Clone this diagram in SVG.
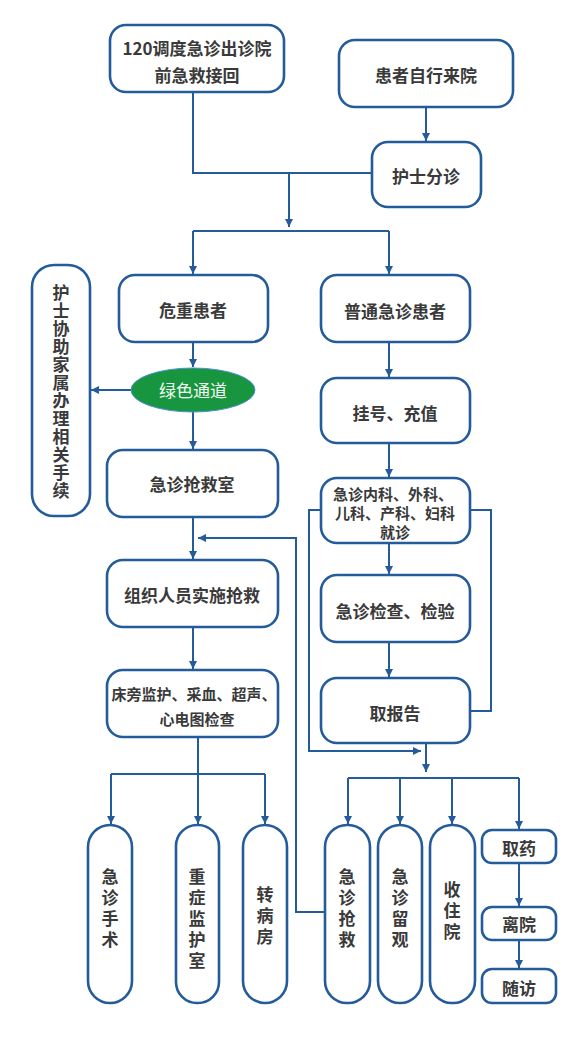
<svg xmlns="http://www.w3.org/2000/svg" width="584" height="1038" viewBox="0 0 584 1038">
<defs>
<marker id="arr" markerUnits="userSpaceOnUse" markerWidth="8" markerHeight="8" refX="8" refY="4" orient="auto">
<path d="M0,0 L8,4 L0,8 z" fill="#235b9b"/>
</marker>
<style>
.box{fill:#ffffff;stroke:#235b9b;stroke-width:2.6}
.ln{fill:none;stroke:#235b9b;stroke-width:2}
.a{marker-end:url(#arr)}
.t{font-family:"Noto Sans CJK SC","Noto Sans",sans-serif;font-size:17px;font-weight:bold;fill:#3a3a3a;text-anchor:middle;dominant-baseline:central}
.s{font-size:15px}
.w{fill:#f2fbf2;font-weight:normal}
.v{writing-mode:vertical-rl;letter-spacing:4px}
.v1{writing-mode:vertical-rl;letter-spacing:1px}
</style>
</defs>
<rect width="584" height="1038" fill="#ffffff"/>
<g id="connectors">
<path class="ln" d="M193 92 V173 H372"/>
<path class="ln a" d="M289 173 V227"/>
<path class="ln" d="M193 231 H389"/>
<path class="ln a" d="M193 231 V274"/>
<path class="ln a" d="M389 231 V274"/>
<path class="ln a" d="M426 107 V141"/>
<path class="ln a" d="M193 342 V367"/>
<path class="ln a" d="M131 390 H91"/>
<path class="ln a" d="M193 412 V449"/>
<path class="ln a" d="M193 517 V559"/>
<path class="ln a" d="M193 627 V669"/>
<path class="ln a" d="M198 737 V824"/>
<path class="ln" d="M111 774 H265"/>
<path class="ln a" d="M111 774 V824"/>
<path class="ln a" d="M265 774 V824"/>
<path class="ln a" d="M389 342 V377"/>
<path class="ln a" d="M389 443 V477"/>
<path class="ln a" d="M389 543 V574"/>
<path class="ln a" d="M389 642 V677"/>
<path class="ln" d="M470 510 H491 V711 H470"/>
<path class="ln a" d="M321 510 H309 V751 H421"/>
<path class="ln a" d="M426 743 V772"/>
<path class="ln" d="M348 778 H519"/>
<path class="ln a" d="M348 778 V824"/>
<path class="ln a" d="M400 778 V824"/>
<path class="ln a" d="M452 778 V824"/>
<path class="ln a" d="M519 778 V829"/>
<path class="ln a" d="M519 863 V906"/>
<path class="ln a" d="M519 940 V968"/>
<path class="ln a" d="M325 912 H296 V538 H198"/>
</g>
<g id="n120"><rect class="box" x="110" y="25" width="174" height="67" rx="16"/>
<text class="t" x="197" y="47">120调度急诊出诊院</text><text class="t" x="197" y="74">前急救接回</text></g>
<g id="nSelf"><rect class="box" x="339" y="40" width="174" height="67" rx="16"/>
<text class="t" x="426" y="74">患者自行来院</text></g>
<g id="nTriage"><rect class="box" x="372" y="142" width="109" height="65" rx="16"/>
<text class="t" x="426" y="175">护士分诊</text></g>
<g id="nCritical"><rect class="box" x="119" y="275" width="149" height="67" rx="16"/>
<text class="t" x="193" y="309">危重患者</text></g>
<g id="nNormal"><rect class="box" x="321" y="275" width="149" height="67" rx="16"/>
<text class="t" x="395" y="310">普通急诊患者</text></g>
<g id="nGreen"><ellipse cx="193" cy="390" rx="62" ry="22" fill="#17963f" stroke="#4a8fd0" stroke-width="1"/>
<text class="t w" x="193" y="389">绿色通道</text></g>
<g id="nFamily"><rect class="box" x="32" y="265" width="58" height="251" rx="22"/>
<text class="t v1" x="61" y="392">护士协助家属办理相关手续</text></g>
<g id="nResus"><rect class="box" x="107" y="450" width="171" height="67" rx="16"/>
<text class="t" x="192" y="483">急诊抢救室</text></g>
<g id="nRegister"><rect class="box" x="321" y="378" width="149" height="65" rx="16"/>
<text class="t" x="395" y="412">挂号、充值</text></g>
<g id="nDept"><rect class="box" x="321" y="478" width="149" height="65" rx="16"/>
<text class="t s" x="393" y="493">急诊内科、外科、</text><text class="t s" x="395" y="512">儿科、产科、妇科</text><text class="t s" x="395" y="531">就诊</text></g>
<g id="nOrg"><rect class="box" x="107" y="560" width="171" height="67" rx="16"/>
<text class="t" x="192" y="594">组织人员实施抢救</text></g>
<g id="nExam"><rect class="box" x="321" y="575" width="149" height="67" rx="16"/>
<text class="t" x="395" y="610">急诊检查、检验</text></g>
<g id="nBedside"><rect class="box" x="107" y="670" width="171" height="67" rx="16"/>
<text class="t s" x="194" y="693">床旁监护、采血、超声、</text><text class="t s" x="197" y="718">心电图检查</text></g>
<g id="nReport"><rect class="box" x="321" y="678" width="149" height="65" rx="16"/>
<text class="t" x="395" y="712">取报告</text></g>
<g id="nSurgery"><rect class="box" x="88" y="825" width="44" height="178" rx="22"/>
<text class="t v" x="110" y="910">急诊手术</text></g>
<g id="nICU"><rect class="box" x="176" y="825" width="43" height="178" rx="21"/>
<text class="t v" x="197" y="921">重症监护室</text></g>
<g id="nWard"><rect class="box" x="243" y="825" width="44" height="178" rx="22"/>
<text class="t v" x="265" y="918">转病房</text></g>
<g id="nER"><rect class="box" x="325" y="825" width="45" height="178" rx="22"/>
<text class="t v" x="347" y="910">急诊抢救</text></g>
<g id="nObs"><rect class="box" x="378" y="825" width="44" height="178" rx="22"/>
<text class="t v" x="400" y="910">急诊留观</text></g>
<g id="nAdmit"><rect class="box" x="430" y="825" width="45" height="178" rx="22"/>
<text class="t v" x="452" y="913">收住院</text></g>
<g id="nMed"><rect class="box" x="482" y="830" width="74" height="33" rx="10"/>
<text class="t" x="519" y="847">取药</text></g>
<g id="nLeave"><rect class="box" x="482" y="907" width="74" height="33" rx="10"/>
<text class="t" x="519" y="923">离院</text></g>
<g id="nFollow"><rect class="box" x="482" y="969" width="74" height="34" rx="10"/>
<text class="t" x="519" y="987">随访</text></g>
</svg>
